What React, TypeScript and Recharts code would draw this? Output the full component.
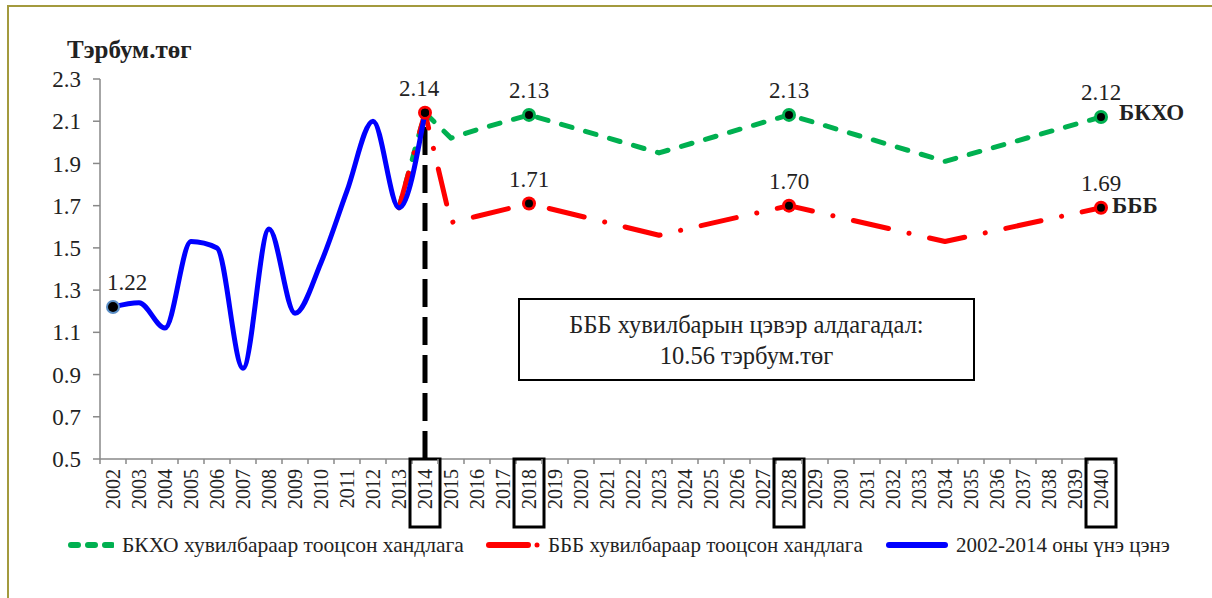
import React from 'react';
import { LineChart, Line, XAxis, YAxis, ReferenceLine, LabelList } from 'recharts';

const years = ['2002','2003','2004','2005','2006','2007','2008','2009','2010','2011','2012','2013','2014','2015','2016','2017','2018','2019','2020','2021','2022','2023','2024','2025','2026','2027','2028','2029','2030','2031','2032','2033','2034','2035','2036','2037','2038','2039','2040'];

const actual = [1.22,1.24,1.12,1.53,1.50,0.93,1.59,1.19,1.43,1.77,2.10,1.69,2.14,null,null,null,null,null,null,null,null,null,null,null,null,null,null,null,null,null,null,null,null,null,null,null,null,null,null];

const bkho = [null,null,null,null,null,null,null,null,null,null,null,1.69,2.14,2.02,2.06,null,2.13,null,null,null,null,1.95,null,null,null,null,2.13,null,null,null,null,null,1.91,null,null,null,null,null,2.12];

const bbb = [null,null,null,null,null,null,null,null,null,null,null,1.69,2.14,1.62,1.65,null,1.71,null,null,null,null,1.56,null,null,null,null,1.70,null,null,null,null,null,1.53,null,null,null,null,null,1.69];

const yTicks = [0.5,0.7,0.9,1.1,1.3,1.5,1.7,1.9,2.1,2.3];
const boxedYears = ['2014','2018','2028','2040'];
const bkhoLabelYears = ['2018','2028','2040'];
const bbbLabelYears = ['2018','2028','2040'];
const actualLabelYears = ['2002','2014'];

const data = years.map((y, i) => ({ year: y, actual: actual[i], bkho: bkho[i], bbb: bbb[i] }));

const SERIF = 'Liberation Serif';
const GREEN = '#00B050';
const RED = '#FF0000';
const BLUE = '#0000FF';
const HALF = 13;

const XTick = (props: any) => {
  const { x, y, payload, index } = props;
  const label = payload.value;
  const boxed = boxedYears.includes(label);
  return (
    <g>
      <line x1={x - HALF} y1={y} x2={x - HALF} y2={y + 5} stroke="#888" strokeWidth={1.5} />
      {index === years.length - 1 && (
        <line x1={x + HALF} y1={y} x2={x + HALF} y2={y + 5} stroke="#888" strokeWidth={1.5} />
      )}
      <text
        x={x}
        y={y + 10}
        transform={`rotate(-90 ${x} ${y + 10})`}
        textAnchor="end"
        dominantBaseline="central"
        fontFamily={SERIF}
        fontSize={20}
        fill="#222"
      >
        {label}
      </text>
      {boxed && (
        <rect x={x - 15} y={y} width={30} height={68} fill="none" stroke="#000" strokeWidth={3} />
      )}
    </g>
  );
};

const makeDot = (keyYears: string[], ring: string, inner: number) => (props: any) => {
  const { cx, cy, index } = props;
  const yr = years[index];
  if (!keyYears.includes(yr) || cx == null || cy == null) return <g key={`d-${ring}-${index}`} />;
  return (
    <g key={`d-${ring}-${index}`}>
      <circle cx={cx} cy={cy} r={7} fill={ring} />
      <circle cx={cx} cy={cy} r={inner} fill="#000" />
    </g>
  );
};

const labelDx: Record<string, number> = { '2002': 14, '2014': -6 };

const makeLabel = (keyYears: string[]) => (props: any) => {
  const { x, y, value, index } = props;
  const yr = years[index];
  if (!keyYears.includes(yr) || value == null) return null;
  return (
    <text x={x + (labelDx[yr] || 0)} y={y - 17} textAnchor="middle" fontFamily={SERIF} fontSize={23} fill="#222">
      {Number(value).toFixed(2)}
    </text>
  );
};

const blueDot = (props: any) => {
  const { cx, cy, index } = props;
  const yr = years[index];
  if (cx == null || cy == null) return <g key={`b-${index}`} />;
  if (yr === '2002') {
    return (
      <g key={`b-${index}`}>
        <circle cx={cx} cy={cy} r={7} fill="#5B8FC7" />
        <circle cx={cx} cy={cy} r={5} fill="#000" />
      </g>
    );
  }
  if (yr === '2014') {
    return (
      <g key={`b-${index}`}>
        <circle cx={cx} cy={cy} r={4} fill="#000" />
      </g>
    );
  }
  return <g key={`b-${index}`} />;
};

const LegendItem = ({ left, icon, text, size }: { left: number; icon: React.ReactNode; text: string; size: number }) => (
  <div style={{ position: 'absolute', left, top: 533, height: 24, display: 'flex', alignItems: 'center' }}>
    {icon}
    <span style={{ fontFamily: SERIF, fontSize: size, color: '#222', whiteSpace: 'nowrap', marginLeft: 8 }}>{text}</span>
  </div>
);

export default function App() {
  return (
    <div style={{ position: 'absolute', left: 0, top: 0, width: 1212, height: 598, background: '#fff', overflow: 'hidden' }}>
      <div style={{ position: 'absolute', left: 7, top: 5, width: 1300, height: 700, borderLeft: '2px solid #A39A3E', borderTop: '2px solid #A39A3E' }} />
      <div style={{ position: 'absolute', left: 67, top: 36, fontFamily: SERIF, fontWeight: 'bold', fontSize: 25, color: '#222', whiteSpace: 'nowrap' }}>
        Тэрбум.төг
      </div>
      <LineChart width={1212} height={598} data={data} margin={{ top: 79, right: 98, bottom: 59, left: 40 }}>
        <XAxis
          dataKey="year"
          interval={0}
          padding={{ left: HALF, right: HALF }}
          height={80}
          tick={<XTick />}
          tickLine={false}
          tickSize={0}
          tickMargin={0}
          axisLine={{ stroke: '#888', strokeWidth: 1.5 }}
        />
        <YAxis
          domain={[0.5, 2.3]}
          ticks={yTicks}
          width={60}
          tickSize={7}
          tickMargin={12}
          tickFormatter={(v: number) => v.toFixed(1)}
          tick={{ fontFamily: SERIF, fontSize: 23, fill: '#222' }}
          tickLine={{ stroke: '#888', strokeWidth: 1.5 }}
          axisLine={{ stroke: '#888', strokeWidth: 1.5 }}
          allowDataOverflow
        />
        <ReferenceLine
          segment={[{ x: '2014', y: 0.5 }, { x: '2014', y: 2.14 }]}
          stroke="#000"
          strokeWidth={5}
          strokeDasharray="28 10"
        />
        <Line
          type="linear"
          dataKey="bkho"
          stroke={GREEN}
          strokeWidth={5}
          strokeDasharray="11 14"
          strokeLinecap="round"
          strokeLinejoin="round"
          connectNulls
          isAnimationActive={false}
          dot={makeDot(['2018', '2028', '2040'], GREEN, 4)}
          activeDot={false}
        >
          <LabelList dataKey="bkho" content={makeLabel(bkhoLabelYears)} />
        </Line>
        <Line
          type="linear"
          dataKey="bbb"
          stroke={RED}
          strokeWidth={5}
          strokeDasharray="36 21 0.1 21"
          strokeLinecap="round"
          strokeLinejoin="round"
          connectNulls
          isAnimationActive={false}
          dot={makeDot(['2014', '2018', '2028', '2040'], RED, 4)}
          activeDot={false}
        >
          <LabelList dataKey="bbb" content={makeLabel(bbbLabelYears)} />
        </Line>
        <Line
          type="monotone"
          dataKey="actual"
          stroke={BLUE}
          strokeWidth={5}
          isAnimationActive={false}
          dot={blueDot}
          activeDot={false}
        >
          <LabelList dataKey="actual" content={makeLabel(actualLabelYears)} />
        </Line>
      </LineChart>
      <div style={{ position: 'absolute', left: 1119, top: 100, fontFamily: SERIF, fontWeight: 'bold', fontSize: 23, color: '#222' }}>БКХО</div>
      <div style={{ position: 'absolute', left: 1112, top: 193, fontFamily: SERIF, fontWeight: 'bold', fontSize: 23, color: '#222' }}>БББ</div>
      <div
        style={{
          position: 'absolute',
          left: 518,
          top: 298,
          width: 453,
          height: 79,
          border: '2px solid #000',
          display: 'flex',
          flexDirection: 'column',
          alignItems: 'center',
          justifyContent: 'center',
          fontFamily: SERIF,
          fontSize: 24.5,
          lineHeight: '31px',
          color: '#222',
        }}
      >
        <div>БББ хувилбарын цэвэр алдагадал:</div>
        <div>10.56 тэрбум.төг</div>
      </div>
      <LegendItem
        left={68}
        size={21.5}
        text="БКХО хувилбараар тооцсон хандлага"
        icon={
          <svg width={46} height={10}>
            <line x1={3} y1={5} x2={44} y2={5} stroke={GREEN} strokeWidth={6} strokeLinecap="round" strokeDasharray="7 10" />
          </svg>
        }
      />
      <LegendItem
        left={486}
        size={21}
        text="БББ хувилбараар тооцсон хандлага"
        icon={
          <svg width={54} height={10}>
            <line x1={3} y1={5} x2={42} y2={5} stroke={RED} strokeWidth={6} strokeLinecap="round" />
            <circle cx={51} cy={5} r={2.5} fill={RED} />
          </svg>
        }
      />
      <LegendItem
        left={886}
        size={21}
        text="2002-2014 оны үнэ цэнэ"
        icon={
          <svg width={62} height={10}>
            <line x1={3} y1={5} x2={59} y2={5} stroke={BLUE} strokeWidth={6} strokeLinecap="round" />
          </svg>
        }
      />
    </div>
  );
}
